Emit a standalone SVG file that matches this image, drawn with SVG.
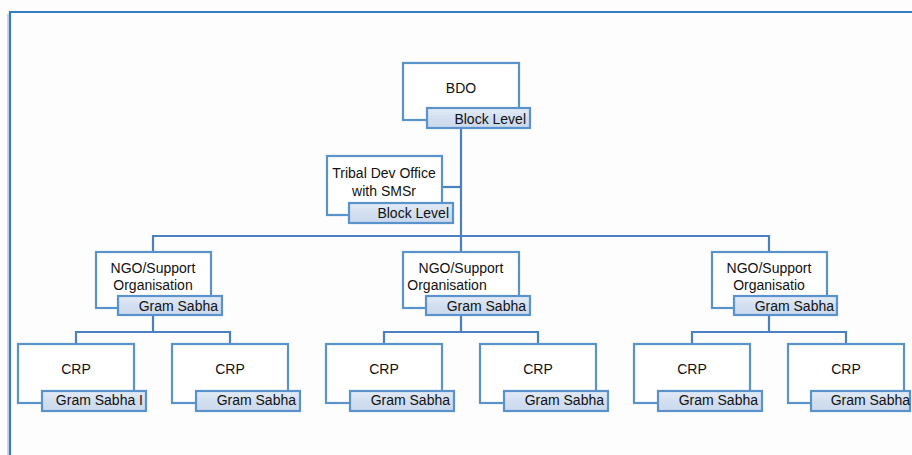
<svg xmlns="http://www.w3.org/2000/svg" width="912" height="455" viewBox="0 0 912 455">
  <defs>
    <linearGradient id="lblFill" x1="0" y1="0" x2="0" y2="1">
      <stop offset="0" stop-color="#e3ebf6"/>
      <stop offset="0.5" stop-color="#d3dff0"/>
      <stop offset="1" stop-color="#cbd9ee"/>
    </linearGradient>
    <style>
      .frame { fill: none; stroke: #3b7bbf; stroke-width: 2.2; }
      .frame-shadow { fill: none; stroke: #c9d8ea; stroke-width: 2; }
      .box { fill: #ffffff; stroke: #5a92cc; stroke-width: 2.2; }
      .lbl { fill: url(#lblFill); stroke: #5a92cc; stroke-width: 2.2; }
      .conn { fill: none; stroke: #4a80bd; stroke-width: 2.2; }
      text { font-family: "Liberation Sans", Arial, sans-serif; font-size: 14px; fill: #111111; }
      .mid { text-anchor: middle; }
      .end { text-anchor: end; }
    </style>
  </defs>
  <rect width="912" height="455" fill="#fdfdfd"/>

  <!-- outer frame (open to the right and bottom) -->
  <path class="frame-shadow" d="M8 455 V14"/>
  <path class="frame" d="M10 455 V12 H912"/>

  <!-- connectors -->
  <g id="connectors">
    <path class="conn" d="M461 128 V236"/>
    <path class="conn" d="M442 187 H461"/>
    <path class="conn" d="M153 252 V236 H769 V252"/>
    <path class="conn" d="M461 236 V252"/>
    <path class="conn" d="M153 315 V332 M76 344 V332 H230 V344"/>
    <path class="conn" d="M461 315 V332 M384 344 V332 H538 V344"/>
    <path class="conn" d="M769 315 V332 M692 344 V332 H846 V344"/>
  </g>

  <!-- top level -->
  <g id="bdo">
    <rect class="box" x="403" y="63" width="116" height="57"/>
    <rect class="lbl" x="427" y="108" width="103" height="20"/>
    <text class="mid" x="461" y="93">BDO</text>
    <text class="end" x="526" y="124">Block Level</text>
  </g>

  <g id="tribal-dev-office">
    <rect class="box" x="327" y="156" width="115" height="59"/>
    <rect class="lbl" x="349" y="203" width="104" height="20"/>
    <text class="mid" x="384" y="178">Tribal Dev Office</text>
    <text class="mid" x="384" y="196">with SMSr</text>
    <text class="end" x="449" y="218">Block Level</text>
  </g>

  <!-- support organisations -->
  <g id="ngo-1">
    <rect class="box" x="96" y="252" width="115" height="56"/>
    <rect class="lbl" x="118" y="296" width="104" height="19"/>
    <text class="mid" x="153" y="273">NGO/Support</text>
    <text class="mid" x="153" y="290">Organisation</text>
    <text class="end" x="218" y="311">Gram Sabha</text>
  </g>

  <g id="ngo-2">
    <rect class="box" x="403" y="252" width="116" height="56"/>
    <rect class="lbl" x="426" y="296" width="104" height="19"/>
    <text class="mid" x="461" y="273">NGO/Support</text>
    <text class="mid" x="447" y="290">Organisation</text>
    <text class="end" x="526" y="311">Gram Sabha</text>
  </g>

  <g id="ngo-3">
    <rect class="box" x="712" y="252" width="115" height="56"/>
    <rect class="lbl" x="734" y="296" width="103" height="19"/>
    <text class="mid" x="769" y="273">NGO/Support</text>
    <text class="mid" x="769" y="290">Organisatio</text>
    <text class="end" x="834" y="311">Gram Sabha</text>
  </g>

  <!-- community resource persons -->
  <g id="crp-1">
    <rect class="box" x="18" y="344" width="116" height="59"/>
    <rect class="lbl" x="42" y="391" width="104" height="20"/>
    <text class="mid" x="76" y="374">CRP</text>
    <text class="end" x="143" y="405">Gram Sabha I</text>
  </g>
  <g id="crp-2">
    <rect class="box" x="172" y="344" width="116" height="59"/>
    <rect class="lbl" x="196" y="391" width="104" height="20"/>
    <text class="mid" x="230" y="374">CRP</text>
    <text class="end" x="296" y="405">Gram Sabha</text>
  </g>
  <g id="crp-3">
    <rect class="box" x="326" y="344" width="116" height="59"/>
    <rect class="lbl" x="350" y="391" width="104" height="20"/>
    <text class="mid" x="384" y="374">CRP</text>
    <text class="end" x="450" y="405">Gram Sabha</text>
  </g>
  <g id="crp-4">
    <rect class="box" x="480" y="344" width="116" height="59"/>
    <rect class="lbl" x="504" y="391" width="104" height="20"/>
    <text class="mid" x="538" y="374">CRP</text>
    <text class="end" x="604" y="405">Gram Sabha</text>
  </g>
  <g id="crp-5">
    <rect class="box" x="634" y="344" width="116" height="59"/>
    <rect class="lbl" x="658" y="391" width="104" height="20"/>
    <text class="mid" x="692" y="374">CRP</text>
    <text class="end" x="758" y="405">Gram Sabha</text>
  </g>
  <g id="crp-6">
    <rect class="box" x="788" y="344" width="116" height="59"/>
    <rect class="lbl" x="811" y="391" width="99" height="20"/>
    <text class="mid" x="846" y="374">CRP</text>
    <text class="end" x="910" y="405">Gram Sabha</text>
  </g>
</svg>
